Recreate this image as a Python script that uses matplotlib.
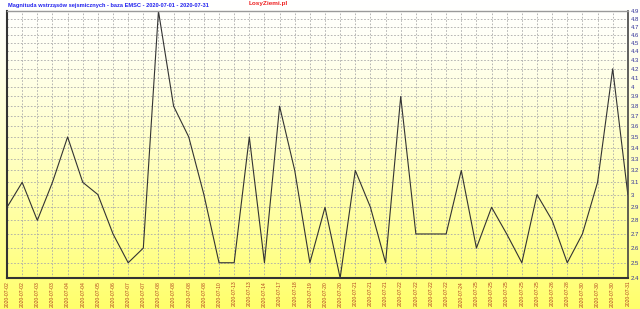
import matplotlib
matplotlib.use("Agg")
import matplotlib.pyplot as plt
import numpy as np

# dane: magnituda wstrząsów (EMSC), lipiec 2020
daty = ["2020-07-02", "2020-07-02", "2020-07-03", "2020-07-03", "2020-07-04",
        "2020-07-04", "2020-07-05", "2020-07-06", "2020-07-07", "2020-07-07",
        "2020-07-08", "2020-07-08", "2020-07-08", "2020-07-08", "2020-07-10",
        "2020-07-13", "2020-07-13", "2020-07-14", "2020-07-17", "2020-07-18",
        "2020-07-19", "2020-07-20", "2020-07-20", "2020-07-21", "2020-07-21",
        "2020-07-21", "2020-07-22", "2020-07-22", "2020-07-22", "2020-07-22",
        "2020-07-24", "2020-07-25", "2020-07-25", "2020-07-25", "2020-07-25",
        "2020-07-25", "2020-07-26", "2020-07-28", "2020-07-30", "2020-07-30",
        "2020-07-30", "2020-07-31"]
magnituda = [2.9, 3.1, 2.8, 3.1, 3.5, 3.1, 3.0, 2.7, 2.5, 2.6,
             4.9, 3.8, 3.5, 3.0, 2.5, 2.5, 3.5, 2.5, 3.8, 3.2,
             2.5, 2.9, 2.4, 3.2, 2.9, 2.5, 3.9, 2.7, 2.7, 2.7,
             3.2, 2.6, 2.9, 2.7, 2.5, 3.0, 2.8, 2.5, 2.7, 3.1,
             4.2, 3.0]
y_ticks = [round(2.4 + 0.1 * i, 1) for i in range(26)]

plt.rcParams['font.family'] = ['Liberation Sans', 'DejaVu Sans']

fig = plt.figure(figsize=(6.4, 3.09), dpi=100)

# tło z gradientem biały -> żółty
bg = fig.add_axes([0, 0, 1, 1], zorder=0)
grad = np.linspace(0, 1, 256) ** 1.3
kolory = np.ones((256, 1, 3))
kolory[:, 0, 2] = 1.0 - 0.58 * grad
bg.imshow(kolory, aspect='auto', extent=[0, 1, 0, 1])
bg.axis('off')

ax = fig.add_axes([0.011, 0.1003, 0.970, 0.8637], zorder=1)
ax.patch.set_alpha(0)

x = np.arange(len(magnituda))
ax.plot(x, magnituda, color='#333333', linewidth=0.8)

ax.set_yscale('log')
ax.set_ylim(2.4, 4.9)
ax.set_xlim(0, len(magnituda) - 1)
ax.set_yticks(y_ticks)
ax.set_yticks([], minor=True)
ax.set_yticklabels([('%g' % v) for v in y_ticks])
ax.yaxis.tick_right()
ax.set_xticks(x)
ax.set_xticklabels(daty, rotation=90)

ax.tick_params(axis='y', labelsize=4.3, colors='#333399', length=0, pad=2)
ax.tick_params(axis='x', labelsize=3.6, colors='#B04020', length=0, pad=2)

ax.grid(True, color='#aaaaaa', linestyle=(0, (2, 2)), linewidth=0.6)

ax.spines['left'].set_color('#333333')
ax.spines['left'].set_linewidth(1.5)
ax.spines['bottom'].set_color('#333333')
ax.spines['bottom'].set_linewidth(1.5)
ax.spines['right'].set_color('#444444')
ax.spines['right'].set_linewidth(1.2)
ax.spines['top'].set_color('#999999')
ax.spines['top'].set_linewidth(1.0)

fig.text(0.012, 0.983, "Magnituda wstrząsów sejsmicznych - baza EMSC - 2020-07-01 - 2020-07-31",
         fontsize=4.1, color='#2222ee', fontweight='bold', va='center', ha='left')
fig.text(0.388, 0.99, "LosyZiemi.pl", fontsize=4.6, color='#ee2222',
         fontweight='bold', va='center', ha='left')

fig.savefig("out.png", dpi=100)
